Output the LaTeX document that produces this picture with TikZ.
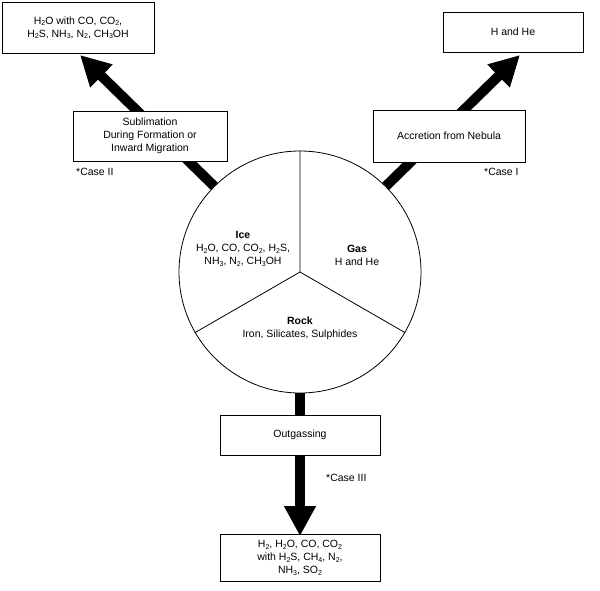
\documentclass[tikz,border=0pt]{standalone}
\usepackage{fontspec}
\setmainfont{Liberation Sans}
\usetikzlibrary{arrows.meta}
\newcommand{\sbs}[1]{\raisebox{-0.25ex}{\scriptsize #1}}
\begin{document}
\begin{tikzpicture}[x=1pt,y=-1pt,font=\fontsize{10.5}{13}\selectfont,
  box/.style={draw,line width=0.8pt,fill=white,align=center,inner sep=0pt},
  big/.style={line width=10pt,-{Triangle[width=30pt,length=30pt]}},
  stub/.style={line width=10pt},
  note/.style={anchor=west,inner sep=0pt}]
\useasboundingbox (0,0) rectangle (600,590);
\node[circle,draw,line width=0.8pt,minimum size=242pt,inner sep=0pt] (c) at (300,272) {};
\coordinate (tipL) at (80,55);
\coordinate (tipR) at (520,55);
\coordinate (tipB) at (300,536);
\draw[big] (c.135) -- (tipL);
\draw[big] (c.45) -- (tipR);
\draw[big] (c.south) -- (tipB);
\node[box,minimum width=152pt,minimum height=51pt] (tl) at (78,27.5) {H\sbs{2}O with CO, CO\sbs{2},\\H\sbs{2}S, NH\sbs{3}, N\sbs{2}, CH\sbs{3}OH};
\node[box,minimum width=140pt,minimum height=40pt] (tr) at (513,32) {H and He};
\node[box,minimum width=154pt,minimum height=50pt] (sub) at (150,136) {Sublimation\\During Formation or\\Inward Migration};
\node[box,minimum width=152pt,minimum height=52pt] (acc) at (449,136) {Accretion from Nebula};
\node[box,minimum width=160pt,minimum height=40pt] (out) at (300,435) {Outgassing};
\node[box,minimum width=160pt,minimum height=47pt] (bot) at (300,558) {H\sbs{2}, H\sbs{2}O, CO, CO\sbs{2}\\with H\sbs{2}S, CH\sbs{4}, N\sbs{2},\\NH\sbs{3}, SO\sbs{2}};
\node[note] (n2) at (76,172) {*Case II};
\node[note] (n1) at (484,172) {*Case I};
\node[note] (n3) at (326,478) {*Case III};
\draw[line width=0.8pt] (c.center) -- (c.90) (c.center) -- (c.210) (c.center) -- (c.330);
\node[align=center] (ice) at (243,249) {\textbf{Ice}\\H\sbs{2}O, CO, CO\sbs{2}, H\sbs{2}S,\\NH\sbs{3}, N\sbs{2}, CH\sbs{3}OH};
\node[align=center] (gas) at (357,255) {\textbf{Gas}\\H and He};
\node[align=center] (rock) at (300,328) {\textbf{Rock}\\Iron, Silicates, Sulphides};
\end{tikzpicture}
\end{document}
